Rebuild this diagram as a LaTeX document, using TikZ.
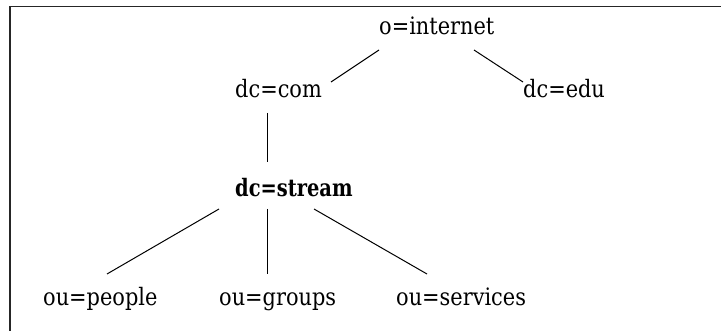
\documentclass[tikz,border=0pt]{standalone}
\usepackage{fontspec}
\newfontfamily\entryfont[FakeStretch=0.87]{DejaVu Serif}
\newfontfamily\entrybold[FakeStretch=0.81]{DejaVu Serif Bold}
\usetikzlibrary{calc}
\begin{document}
\begin{tikzpicture}[x=1pt,y=-1pt,
  entry/.style={anchor=base west, inner sep=0pt, font=\entryfont\fontsize{24}{28}\selectfont},
  keyentry/.style={entry, font=\entrybold\fontsize{24}{28}\selectfont},
  link/.style={line width=1pt, black},
  frame/.style={line width=1.6pt, black!85}]
\useasboundingbox (0,0) rectangle (721,331);
% partial frame: left and top edges
\draw[frame] (10,331) -- (10,6.5) -- (721,6.5);

% directory tree entries
\node[entry]    (inet)     at (379,34.5) {o=internet};
\node[entry]    (com)      at (235,98)   {dc=com};
\node[entry]    (edu)      at (523,98)   {dc=edu};
\node[keyentry] (stream)   at (235,197)  {dc=stream};
\node[entry]    (people)   at (43,306)   {ou=people};
\node[entry]    (groups)   at (219,306)  {ou=groups};
\node[entry]    (services) at (396,306)  {ou=services};

% tree links
\draw[link] ($(inet.base west)+(0,15.5)$)   -- ($(com.base west)+(96,-16)$);
\draw[link] ($(inet.base west)+(95,15.5)$)  -- ($(edu.base west)+(0,-16)$);
\draw[link] ($(com.base west)+(32,15)$)     -- ($(stream.base west)+(32,-35)$);
\draw[link] ($(stream.base west)+(-16,12)$) -- ($(people.base west)+(64,-32)$);
\draw[link] ($(stream.base west)+(32,12)$)  -- ($(groups.base west)+(48,-32)$);
\draw[link] ($(stream.base west)+(79,12)$)  -- ($(services.base west)+(31,-32)$);
\end{tikzpicture}
\end{document}
